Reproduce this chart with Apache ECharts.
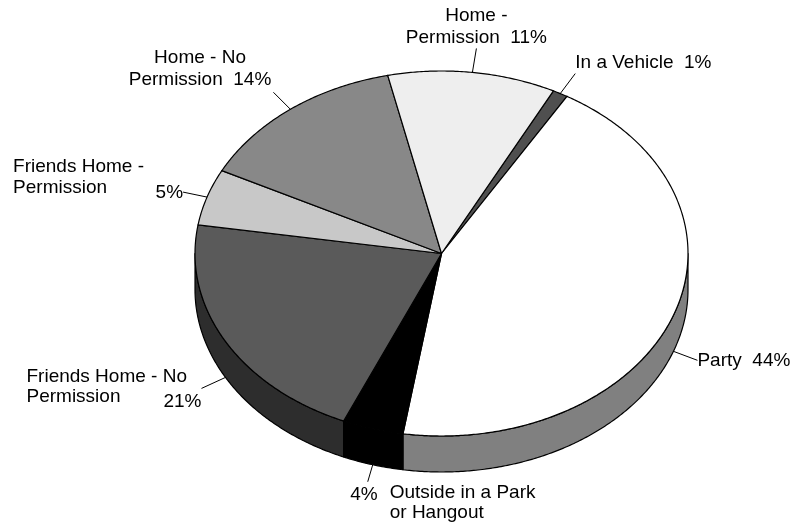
<!DOCTYPE html>
<html>
<head>
<meta charset="utf-8">
<script src="https://cdn.jsdelivr.net/npm/echarts@6/dist/echarts.min.js"></script>
<style>
  html, body { margin: 0; padding: 0; background: #ffffff; }
  #chart { width: 795px; height: 529px; }
</style>
</head>
<body>
<div id="chart"></div>
<script>
// Where young people drink: share of respondents by location (clockwise order)
const categories = [
  'In a Vehicle',
  'Party',
  'Outside in a Park or Hangout',
  'Friends Home - No Permission',
  'Friends Home - Permission',
  'Home - No Permission',
  'Home - Permission'
];
const values = [1, 44, 4, 21, 5, 14, 11];

// Label text as wrapped in the chart
const labelNames = [
  'In a Vehicle',
  'Party',
  'Outside in a Park\nor Hangout',
  'Friends Home - No\nPermission',
  'Friends Home -\nPermission',
  'Home - No\nPermission',
  'Home -\nPermission'
];

// Slice fill colours (top faces); side walls use a darker shade
const faceColors = ['#4f4f4f', '#ffffff', '#000000', '#5a5a5a', '#c8c8c8', '#888888', '#eeeeee'];
const sideColors = ['#282828', '#808080', '#000000', '#2d2d2d', '#646464', '#444444', '#777777'];

// Pie geometry (pixels): elliptical top face plus extruded rim
const PIE = { cx: 441.5, cy: 253.5, rx: 246.5, ry: 182.5, depth: 36, startAngle: 27 };

// Label placement: leader end offset from the rim point at the slice mid-angle,
// then text offsets from the leader end.
//   joined: name and percentage on the same block
//   split:  name block and percentage placed separately
const labelLayout = [
  { leader: [15, -20], joined: { dx: 0, dy: -10.5, align: 'left', va: 'middle', lh: 22 } },
  { leader: [24, 9], joined: { dx: 0, dy: 0, align: 'left', va: 'middle', lh: 22 } },
  { leader: [-5, 17], name: { dx: 22, dy: 1, align: 'left', va: 'top', lh: 20 },
    pct: { dx: 10, dy: 13, align: 'right', va: 'middle' } },
  { leader: [-24, 11], name: { dx: -175, dy: -21.5, align: 'left', va: 'top', lh: 20 },
    pct: { dx: 0, dy: 13.5, align: 'right', va: 'middle' } },
  { leader: [-24, -5], name: { dx: -170, dy: -35.6, align: 'left', va: 'top', lh: 21 },
    pct: { dx: 0, dy: 1, align: 'right', va: 'middle' } },
  { leader: [-17, -17], joined: { dx: -73.4, dy: -1.3, align: 'center', va: 'bottom', lh: 22 } },
  { leader: [4, -24], joined: { dx: 0, dy: 0, align: 'center', va: 'bottom', lh: 22 } }
];

const FONT = '19px "Liberation Sans", Arial, Helvetica, sans-serif';

const total = values.reduce((a, b) => a + b, 0);
const starts = [];
values.reduce((acc, v, i) => { starts[i] = acc; return acc + v; }, 0);

const rad = d => d * Math.PI / 180;
// Angle measured clockwise from 12 o'clock, in degrees
function rimPoint(deg, dropped) {
  return [
    PIE.cx + PIE.rx * Math.sin(rad(deg)),
    PIE.cy - PIE.ry * Math.cos(rad(deg)) + (dropped ? PIE.depth : 0)
  ];
}
function arc(a, b, dropped) {
  const pts = [];
  const n = Math.max(2, Math.ceil(Math.abs(b - a) / 0.5));
  for (let k = 0; k <= n; k++) pts.push(rimPoint(a + (b - a) * k / n, dropped));
  return pts;
}

function renderItem(params, api) {
  const i = params.dataIndex;
  const v = api.value(0);
  const a0 = PIE.startAngle + starts[i] / total * 360;
  const a1 = a0 + v / total * 360;
  const children = [];

  // Visible rim: the front half of the pie lies between 90 and 270 degrees
  [[90, 270], [450, 630]].forEach(([f0, f1]) => {
    const s = Math.max(a0, f0), e = Math.min(a1, f1);
    if (e > s) {
      children.push({
        type: 'polygon',
        shape: { points: arc(s, e, false).concat(arc(e, s, true)) },
        style: { fill: sideColors[i], stroke: '#000', lineWidth: 1.2, lineJoin: 'round' }
      });
    }
  });

  // Top face
  children.push({
    type: 'polygon',
    shape: { points: [[PIE.cx, PIE.cy]].concat(arc(a0, a1, false)) },
    style: { fill: faceColors[i], stroke: '#000', lineWidth: 1.2, lineJoin: 'round' }
  });

  // Leader line from the rim at the mid-angle
  const mid = (a0 + a1) / 2;
  const m = ((mid % 360) + 360) % 360;
  const front = m > 90 && m < 270;
  const A = rimPoint(mid, front);
  const lay = labelLayout[i];
  const L = [A[0] + lay.leader[0], A[1] + lay.leader[1]];
  children.push({
    type: 'line',
    shape: { x1: A[0], y1: A[1], x2: L[0], y2: L[1] },
    style: { stroke: '#000', lineWidth: 1 }
  });

  const pctText = v + '%';
  const txt = (text, p) => ({
    type: 'text',
    style: {
      text: text, x: L[0] + p.dx, y: L[1] + p.dy,
      align: p.align, verticalAlign: p.va,
      font: FONT, fill: '#000', lineHeight: p.lh || 22
    }
  });
  if (lay.joined) {
    children.push(txt(labelNames[i] + '  ' + pctText, lay.joined));
  } else {
    children.push(txt(labelNames[i], lay.name));
    children.push(txt(pctText, lay.pct));
  }

  return { type: 'group', children: children };
}

const chart = echarts.init(document.getElementById('chart'), null, { renderer: 'canvas' });
chart.setOption({
  backgroundColor: '#ffffff',
  animation: false,
  series: [{
    type: 'custom',
    coordinateSystem: 'none',
    silent: true,
    renderItem: renderItem,
    data: values.map((v, i) => ({ name: categories[i], value: [v] }))
  }]
});
</script>
</body>
</html>
